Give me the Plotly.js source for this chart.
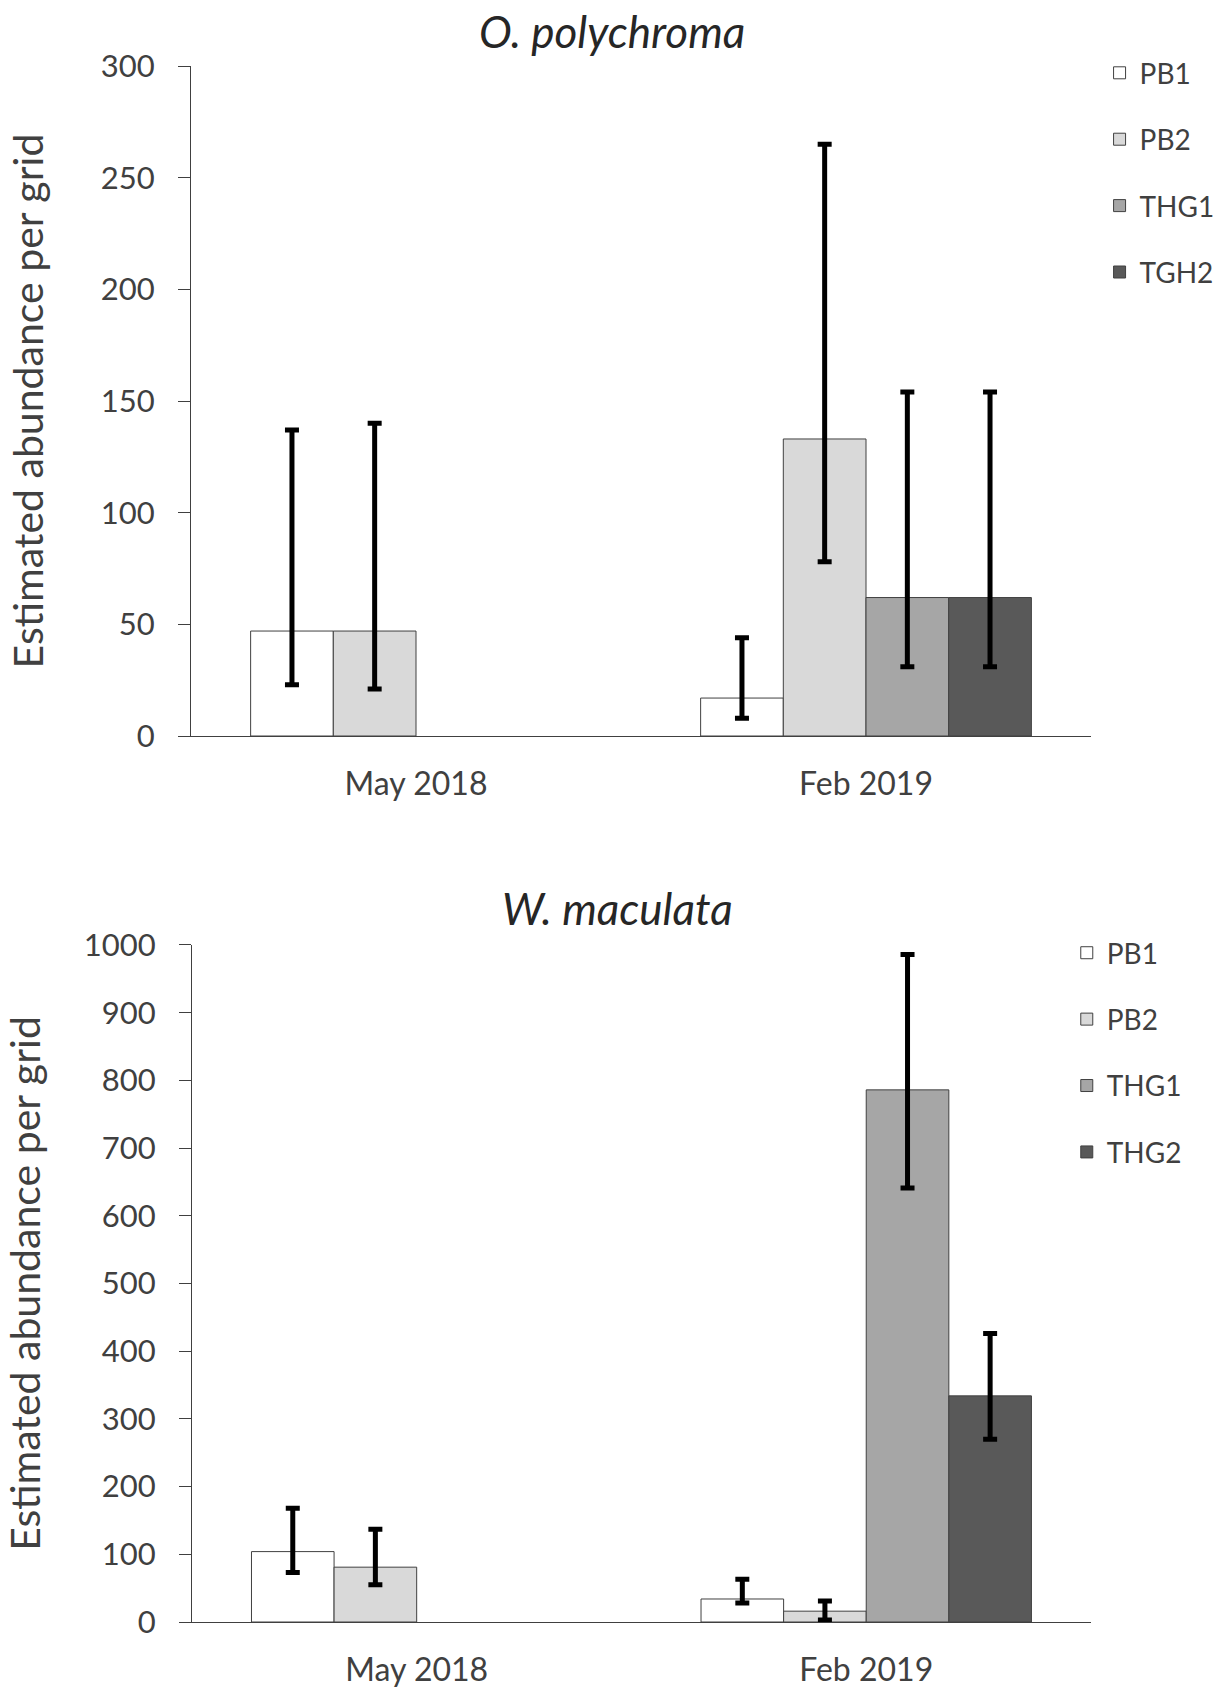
<!DOCTYPE html>
<html>
<head>
<meta charset="utf-8">
<script src="https://cdn.plot.ly/plotly-3.0.1.min.js"></script>
<style>
  html, body { margin: 0; padding: 0; background: #ffffff; }
  #chart { width: 1231px; height: 1691px; }
</style>
</head>
<body>
<div id="chart"></div>
<script>
// ---------- DATA ----------
const categories = ['May 2018', 'Feb 2019'];

// O. polychroma (top panel)
const opNames = ['PB1', 'PB2', 'THG1', 'TGH2'];
const opPB1 = [47, 17];
const opPB2 = [47, 133];
const opTHG1 = [null, 62];
const opTHG2 = [null, 62];
const opPB1Upper = [137, 44];
const opPB1Lower = [23, 8];
const opPB2Upper = [140, 265];
const opPB2Lower = [21, 78];
const opTHG1Upper = [null, 154];
const opTHG1Lower = [null, 31];
const opTHG2Upper = [null, 154];
const opTHG2Lower = [null, 31];

// W. maculata (bottom panel)
const wmNames = ['PB1', 'PB2', 'THG1', 'THG2'];
const wmPB1 = [104, 34];
const wmPB2 = [81, 16];
const wmTHG1 = [null, 786];
const wmTHG2 = [null, 334];
const wmPB1Upper = [168, 63];
const wmPB1Lower = [73, 28];
const wmPB2Upper = [137, 31];
const wmPB2Lower = [55, 3];
const wmTHG1Upper = [null, 986];
const wmTHG1Lower = [null, 641];
const wmTHG2Upper = [null, 426];
const wmTHG2Lower = [null, 270];

const titleTop = 'O. polychroma';
const titleBottom = 'W. maculata';
const yTitle = 'Estimated abundance per grid';

// ---------- STYLE ----------
const FONT = 'Lato, "Open Sans", "DejaVu Sans", sans-serif';
const fills = ['#ffffff', '#d9d9d9', '#a6a6a6', '#595959'];
const edge = '#404040';
const textCol = '#404040';

function plus(v, up) { return v.map((d, i) => d == null ? null : up[i] - d); }
function minus(v, lo) { return v.map((d, i) => d == null ? null : d - lo[i]); }

function barTrace(name, vals, up, lo, idx, xa, ya, leg, grp) {
  return {
    type: 'bar', name: name, x: categories, y: vals,
    xaxis: xa, yaxis: ya, legend: leg, legendgroup: grp,
    marker: { color: fills[idx], line: { color: edge, width: 1 } },
    error_y: {
      type: 'data', symmetric: false,
      array: plus(vals, up), arrayminus: minus(vals, lo),
      color: '#000000', thickness: 5, width: 7, visible: true
    },
    hoverinfo: 'skip'
  };
}

const data = [
  barTrace(opNames[0], opPB1, opPB1Upper, opPB1Lower, 0, 'x', 'y', 'legend', 'a1'),
  barTrace(opNames[1], opPB2, opPB2Upper, opPB2Lower, 1, 'x', 'y', 'legend', 'a2'),
  barTrace(opNames[2], opTHG1, opTHG1Upper, opTHG1Lower, 2, 'x', 'y', 'legend', 'a3'),
  barTrace(opNames[3], opTHG2, opTHG2Upper, opTHG2Lower, 3, 'x', 'y', 'legend', 'a4'),
  barTrace(wmNames[0], wmPB1, wmPB1Upper, wmPB1Lower, 0, 'x2', 'y2', 'legend2', 'b1'),
  barTrace(wmNames[1], wmPB2, wmPB2Upper, wmPB2Lower, 1, 'x2', 'y2', 'legend2', 'b2'),
  barTrace(wmNames[2], wmTHG1, wmTHG1Upper, wmTHG1Lower, 2, 'x2', 'y2', 'legend2', 'b3'),
  barTrace(wmNames[3], wmTHG2, wmTHG2Upper, wmTHG2Lower, 3, 'x2', 'y2', 'legend2', 'b4')
];

function xAxis(domain, anchor) {
  return {
    domain: domain, anchor: anchor, type: 'category', range: [-0.5, 1.5],
    showline: true, linecolor: edge, linewidth: 1, ticks: '', showgrid: false,
    zeroline: false, tickfont: { family: FONT, size: 32, color: textCol },
    ticklabelstandoff: 20, fixedrange: true
  };
}
function yAxis(domain, anchor, range, dtick, standoff) {
  return {
    domain: domain, anchor: anchor, range: range, dtick: dtick, tick0: 0,
    showline: true, linecolor: edge, linewidth: 1, ticks: 'outside',
    ticklen: 12, tickwidth: 1, tickcolor: edge, showgrid: false, zeroline: false,
    tickfont: { family: FONT, size: 31, color: textCol }, ticklabelstandoff: 17,
    title: { text: yTitle, font: { family: FONT, size: 41, color: textCol }, standoff: standoff },
    fixedrange: true
  };
}

const legendBase = {
  xanchor: 'left', yanchor: 'top', orientation: 'v',
  font: { family: FONT, size: 28, color: textCol },
  traceorder: 'grouped', tracegroupgap: 27, bgcolor: 'rgba(0,0,0,0)', borderwidth: 0
};

const layout = {
  width: 1231, height: 1691,
  margin: { l: 191, r: 139, t: 66, b: 69 },
  paper_bgcolor: '#ffffff', plot_bgcolor: '#ffffff',
  barmode: 'group', bargap: 0.265, bargroupgap: 0,
  showlegend: true,
  font: { family: FONT, color: textCol },
  xaxis: xAxis([0, 1], 'y'),
  yaxis: yAxis([0.5694, 1], 'x', [0, 300], 50, 44),
  xaxis2: xAxis([0.001, 1], 'y2'),
  yaxis2: yAxis([0, 0.4351], 'x2', [0, 1000], 100, 32),
  legend: Object.assign({}, legendBase, { x: 1.0084, y: 1.0115 }),
  legend2: Object.assign({}, legendBase, { x: 0.972, y: 0.446 }),
  annotations: [
    { text: '<i>' + titleTop + '</i>', xref: 'paper', yref: 'paper', x: 0.4673, y: 1.0225,
      xanchor: 'center', yanchor: 'middle', showarrow: false,
      font: { family: FONT, size: 44, color: '#262626' } },
    { text: '<i>' + titleBottom + '</i>', xref: 'paper', yref: 'paper', x: 0.4739, y: 0.4589,
      xanchor: 'center', yanchor: 'middle', showarrow: false,
      font: { family: FONT, size: 44, color: '#262626' } }
  ]
};

Plotly.newPlot('chart', data, layout, { displayModeBar: false, staticPlot: true });
</script>
</body>
</html>
